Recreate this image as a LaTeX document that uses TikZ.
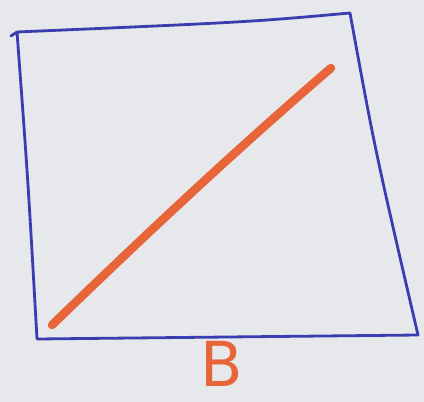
\documentclass[tikz,border=0pt]{standalone}
\usepackage{fontspec}
\setmainfont{DejaVu Sans}
\definecolor{paper}{HTML}{E6E8EC}
\definecolor{penblue}{HTML}{3A3DB0}
\definecolor{penorange}{HTML}{E8653A}
\tikzset{
  frame/.style={draw=penblue, line width=2.8pt, line join=round, line cap=round},
  stroke/.style={draw=penorange, line width=8.5pt, line cap=round},
  letter/.style={text=penorange, font=\fontsize{62}{62}\selectfont, inner sep=0pt}
}
\begin{document}
\begin{tikzpicture}[x=1pt,y=-1pt]
  \fill[paper] (0,0) rectangle (424,402);
  \useasboundingbox (0,0) rectangle (424,402);
  \coordinate (tl) at (17,32);
  \coordinate (tr) at (350,13);
  \coordinate (br) at (418,335);
  \coordinate (bl) at (37,339);
  \coordinate (tick) at (11,36);
  \draw[frame] (tick) -- (tl) .. controls (250,22) .. (tr) .. controls (375,150) .. (br) -- (bl) .. controls (28,180) .. (tl);
  \coordinate (s1) at (52,325);
  \coordinate (s2) at (331,68);
  \draw[stroke] (s1) .. controls (140,240) and (230,155) .. (s2);
  \node[letter] (lab) at (222,364) {B};
\end{tikzpicture}
\end{document}
